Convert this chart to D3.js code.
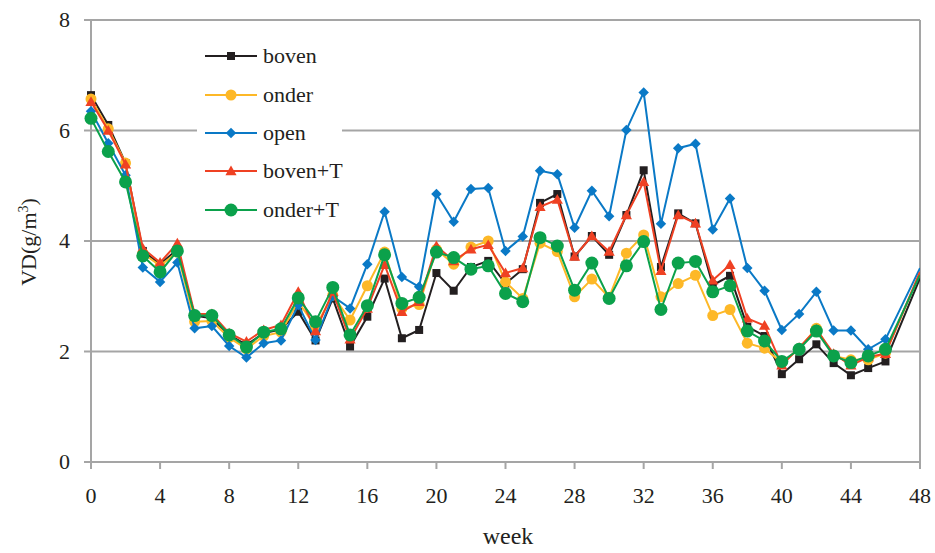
<!DOCTYPE html>
<html>
<head>
<meta charset="utf-8">
<script src="https://cdn.jsdelivr.net/npm/d3@7"></script>
<style>
  body { margin: 0; background: #fff; }
  text { font-family: "Liberation Serif", "Times New Roman", serif; fill: #231f20; }
</style>
</head>
<body>
<script>
var width = 935, height = 553;

// weeks 0..46, then 48 (line runs off to the right edge)
var weeks = [0,1,2,3,4,5,6,7,8,9,10,11,12,13,14,15,16,17,18,19,20,21,22,23,24,25,26,27,28,29,30,31,32,33,34,35,36,37,38,39,40,41,42,43,44,45,46,48];

var boven = [6.64,6.10,5.41,3.82,3.58,3.85,2.65,2.60,2.30,2.12,2.33,2.40,2.72,2.20,2.96,2.09,2.63,3.32,2.24,2.39,3.42,3.10,3.53,3.64,3.23,3.49,4.69,4.85,3.72,4.09,3.75,4.47,5.28,3.53,4.50,4.32,3.20,3.37,2.45,2.28,1.59,1.86,2.13,1.79,1.57,1.70,1.82,3.33];
var onder = [6.57,6.03,5.41,3.78,3.55,3.80,2.54,2.55,2.25,2.05,2.28,2.35,2.90,2.45,3.02,2.57,3.19,3.80,2.78,2.85,3.85,3.58,3.89,4.00,3.26,2.96,3.96,3.81,2.99,3.31,2.98,3.78,4.11,2.99,3.23,3.38,2.65,2.76,2.15,2.06,1.79,2.05,2.42,1.92,1.85,1.85,1.97,3.42];
var open = [6.35,5.77,5.19,3.52,3.26,3.61,2.42,2.46,2.10,1.89,2.15,2.20,2.84,2.21,3.00,2.78,3.58,4.53,3.35,3.17,4.85,4.35,4.94,4.96,3.82,4.08,5.27,5.21,4.24,4.91,4.45,6.01,6.69,4.31,5.68,5.76,4.21,4.77,3.51,3.10,2.39,2.68,3.08,2.38,2.38,2.04,2.22,3.51];
var bovenT = [6.52,6.00,5.39,3.87,3.61,3.96,2.68,2.68,2.33,2.18,2.39,2.48,3.08,2.37,3.08,2.22,2.78,3.57,2.72,2.90,3.91,3.64,3.85,3.93,3.42,3.51,4.62,4.75,3.72,4.09,3.81,4.47,5.07,3.46,4.47,4.32,3.29,3.57,2.60,2.47,1.75,2.07,2.40,1.96,1.75,1.90,1.96,3.44];
var onderT = [6.22,5.62,5.07,3.73,3.44,3.82,2.65,2.65,2.30,2.08,2.35,2.41,2.97,2.54,3.16,2.30,2.83,3.75,2.87,2.98,3.80,3.70,3.49,3.55,3.05,2.90,4.06,3.91,3.11,3.60,2.96,3.55,3.99,2.76,3.60,3.63,3.08,3.19,2.37,2.19,1.82,2.04,2.37,1.92,1.80,1.92,2.04,3.38];

var seriesNames = ["boven", "onder", "open", "boven+T", "onder+T"];
var seriesValues = [boven, onder, open, bovenT, onderT];
var seriesColors = ["#231f20", "#fdb827", "#0a79c6", "#ef4123", "#0ba14b"];
var seriesMarkers = ["square", "circle", "diamond", "triangle", "bigcircle"];

var xTicks = [0,4,8,12,16,20,24,28,32,36,40,44,48];
var yTicks = [0,2,4,6,8];

var svg = d3.select("body").append("svg")
  .attr("width", width)
  .attr("height", height);

var x = d3.scaleLinear().domain([0, 48]).range([91, 920]);
var y = d3.scaleLinear().domain([0, 8]).range([462, 20]);

var gridColor = "#a5a5a5";

// gridlines (with the little tick stub on the left)
svg.append("g").selectAll("line")
  .data(yTicks)
  .enter().append("line")
  .attr("x1", 84).attr("x2", 920)
  .attr("y1", d => y(d)).attr("y2", d => y(d))
  .attr("stroke", gridColor).attr("stroke-width", 2);

// axes frame
svg.append("line").attr("x1", x(0)).attr("x2", x(0)).attr("y1", y(8)).attr("y2", y(0) + 7)
  .attr("stroke", gridColor).attr("stroke-width", 2);
svg.append("line").attr("x1", x(48)).attr("x2", x(48)).attr("y1", y(8)).attr("y2", y(0) + 7)
  .attr("stroke", gridColor).attr("stroke-width", 2);

var xAxis = svg.append("g");
xAxis.selectAll("line")
  .data(xTicks)
  .enter().append("line")
  .attr("x1", d => x(d)).attr("x2", d => x(d))
  .attr("y1", y(0)).attr("y2", y(0) + 7)
  .attr("stroke", gridColor).attr("stroke-width", 2);
xAxis.selectAll("text")
  .data(xTicks)
  .enter().append("text")
  .attr("x", d => x(d)).attr("y", 503)
  .attr("text-anchor", "middle")
  .style("font-size", "22px")
  .text(d => d);

svg.append("g").selectAll("text")
  .data(yTicks)
  .enter().append("text")
  .attr("x", 70).attr("y", d => y(d) + 7)
  .attr("text-anchor", "end")
  .style("font-size", "22px")
  .text(d => d);

svg.append("text")
  .attr("x", 508).attr("y", 544)
  .attr("text-anchor", "middle")
  .style("font-size", "24px")
  .text("week");

var yl = svg.append("text")
  .attr("transform", "translate(36,242) rotate(-90)")
  .attr("text-anchor", "middle")
  .style("font-size", "22px");
yl.append("tspan").text("VD(g/m");
yl.append("tspan").attr("dy", -8).style("font-size", "14px").text("3");
yl.append("tspan").attr("dy", 8).text(")");

// marker drawer
function marker(g, type, color) {
  if (type === "square") {
    g.append("rect").attr("x", -4).attr("y", -4).attr("width", 8).attr("height", 8).attr("fill", color);
  } else if (type === "circle") {
    g.append("circle").attr("r", 5.5).attr("fill", color);
  } else if (type === "bigcircle") {
    g.append("circle").attr("r", 6.5).attr("fill", color);
  } else if (type === "diamond") {
    g.append("path").attr("d", d3.symbol(d3.symbolDiamond2, 70)()).attr("fill", color);
  } else if (type === "triangle") {
    g.append("path").attr("d", d3.symbol(d3.symbolTriangle2, 90)()).attr("transform", "translate(0,1)").attr("fill", color);
  }
}

var line = d3.line()
  .x(d => x(d[0]))
  .y(d => y(d[1]));

svg.append("clipPath").attr("id", "plot")
  .append("rect").attr("x", x(0)).attr("y", 0).attr("width", x(48) - x(0)).attr("height", y(0));

seriesValues.forEach(function(vals, i) {
  var pts = weeks.map((w, j) => [w, vals[j]]);
  var g = svg.append("g");
  g.append("path")
    .datum(pts)
    .attr("d", line)
    .attr("fill", "none")
    .attr("stroke", seriesColors[i])
    .attr("stroke-width", 2)
    .attr("clip-path", "url(#plot)");
  g.selectAll(".m")
    .data(pts.filter(p => p[0] < 48))
    .enter().append("g")
    .attr("transform", p => "translate(" + x(p[0]) + "," + y(p[1]) + ")")
    .each(function() { marker(d3.select(this), seriesMarkers[i], seriesColors[i]); });
});

// legend
var legend = svg.append("g");
legend.append("rect")
  .attr("x", 197).attr("y", 35).attr("width", 145).attr("height", 195)
  .attr("fill", "#fff");
var rowsY = [56, 95, 133, 171, 210];
seriesNames.forEach(function(name, i) {
  var r = legend.append("g").attr("transform", "translate(0," + rowsY[i] + ")");
  r.append("line").attr("x1", 205).attr("x2", 257).attr("y1", 0).attr("y2", 0)
    .attr("stroke", seriesColors[i]).attr("stroke-width", 2);
  marker(r.append("g").attr("transform", "translate(231,0)"), seriesMarkers[i], seriesColors[i]);
  r.append("text").attr("x", 263).attr("y", 7)
    .style("font-size", "22px")
    .text(name);
});
</script>
</body>
</html>
